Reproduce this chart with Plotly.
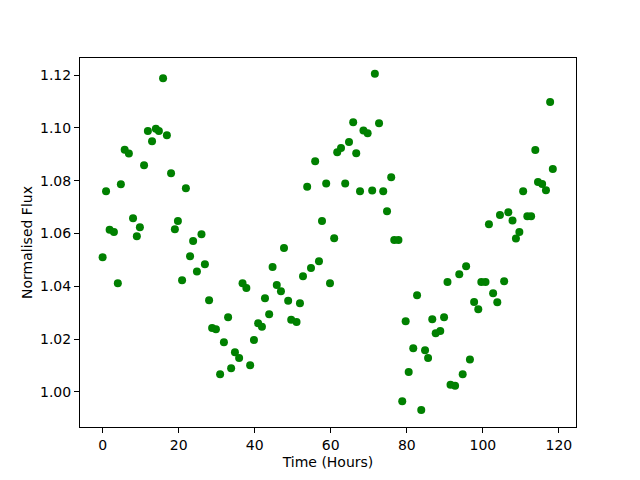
import plotly.graph_objects as go

time_hours = [0.0, 0.9, 1.84, 2.97, 4.0, 4.8, 5.8, 6.9, 8.0, 9.0, 9.8, 10.9, 11.9, 13.0, 14.0, 14.8,
              15.9, 16.9, 18.0, 19.0, 19.8, 20.9, 21.9, 23.0, 23.8, 24.8, 26.0, 26.9, 28.0, 28.8, 29.8,
              30.9, 31.9, 33.0, 33.8, 34.8, 35.9, 36.8, 37.8, 38.8, 39.8, 40.9, 41.9, 42.7, 43.8, 44.7,
              45.8, 46.9, 47.7, 48.8, 49.6, 51.0, 51.9, 52.7, 53.8, 54.8, 55.9, 56.9, 57.7, 58.8, 59.8,
              60.9, 61.7, 62.7, 63.8, 64.8, 65.9, 66.7, 67.7, 68.6, 69.7, 70.9, 71.6, 72.7, 73.8, 74.8,
              75.9, 76.7, 77.8, 78.8, 79.7, 80.5, 81.7, 82.7, 83.8, 84.8, 85.6, 86.7, 87.6, 88.8, 89.8,
              90.7, 91.5, 92.7, 93.8, 94.7, 95.6, 96.6, 97.7, 98.8, 99.6, 100.7, 101.6, 102.7, 103.8,
              104.5, 105.6, 106.7, 107.8, 108.7, 109.6, 110.6, 111.7, 112.7, 113.8, 114.5, 115.6, 116.6,
              117.7, 118.4]

flux = [1.0510, 1.0760, 1.0614, 1.0606, 1.0412, 1.0787, 1.0917, 1.0903, 1.0658, 1.0590, 1.0624, 1.0859,
        1.0988, 1.0950, 1.0997, 1.0988, 1.1188, 1.0972, 1.0828, 1.0616, 1.0647, 1.0423, 1.0772, 1.0514,
        1.0572, 1.0456, 1.0597, 1.0484, 1.0347, 1.0242, 1.0237, 1.0067, 1.0188, 1.0283, 1.0090, 1.0150,
        1.0128, 1.0412, 1.0394, 1.0101, 1.0197, 1.0260, 1.0247, 1.0355, 1.0294, 1.0473, 1.0405, 1.0381,
        1.0545, 1.0345, 1.0273, 1.0265, 1.0336, 1.0438, 1.0777, 1.0469, 1.0874, 1.0495, 1.0647, 1.0790,
        1.0412, 1.0582, 1.0908, 1.0924, 1.0790, 1.0947, 1.1022, 1.0904, 1.0760, 1.0990, 1.0980, 1.0763,
        1.1205, 1.1018, 1.0760, 1.0684, 1.0813, 1.0575, 1.0575, 0.9965, 1.0268, 1.0075, 1.0165, 1.0366,
        0.9931, 1.0158, 1.0128, 1.0275, 1.0222, 1.0231, 1.0283, 1.0416, 1.0027, 1.0023, 1.0446, 1.0067,
        1.0476, 1.0123, 1.0341, 1.0313, 1.0416, 1.0416, 1.0635, 1.0374, 1.0340, 1.0670, 1.0419, 1.0681,
        1.0649, 1.0581, 1.0606, 1.0760, 1.0665, 1.0665, 1.0916, 1.0795, 1.0788, 1.0764, 1.1098, 1.0844]

x_ticks = [0, 20, 40, 60, 80, 100, 120]
y_ticks = [1.00, 1.02, 1.04, 1.06, 1.08, 1.10, 1.12]

fig = go.Figure(go.Scatter(
    x=time_hours, y=flux, mode="markers",
    marker=dict(color="#008000", size=8, line=dict(width=0)),
    cliponaxis=False,
))

axis_common = dict(
    showgrid=False, zeroline=False, showline=True, linecolor="black", linewidth=1,
    mirror=True, ticks="outside", ticklen=5, tickwidth=1, tickcolor="black",
    tickfont=dict(size=14, color="black"),
)

fig.update_layout(
    width=640, height=480,
    margin=dict(l=72, r=72, t=50, b=61),
    paper_bgcolor="white", plot_bgcolor="white",
    font=dict(family="DejaVu Sans", size=14, color="black"),
    showlegend=False,
    xaxis=dict(range=[-5.95, 124.5], tickvals=x_ticks, ticktext=[str(v) for v in x_ticks],
               title=dict(text="Time (Hours)", font=dict(size=14), standoff=5), **axis_common),
    yaxis=dict(range=[0.9867, 1.1265], tickvals=y_ticks, ticktext=[f"{v:.2f}" for v in y_ticks],
               title=dict(text="Normalised Flux", font=dict(size=14), standoff=4), **axis_common),
)

fig.write_html("out.html")
